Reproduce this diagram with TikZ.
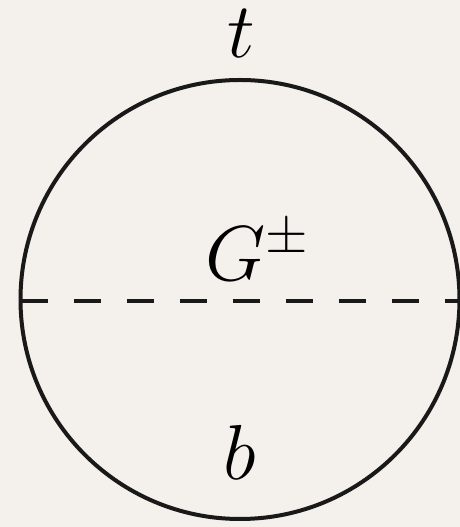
\RequirePackage{fix-cm}
\documentclass[tikz,border=0pt]{standalone}
\definecolor{paper}{HTML}{F4F1EC}
\begin{document}
\begin{tikzpicture}[x=1pt,y=1pt,
  line/.style={line width=4pt, black!90},
  lbl/.style={anchor=base, inner sep=0pt, font=\fontsize{78}{90}\selectfont}]
\fill[paper] (0,0) rectangle (460,527);
\useasboundingbox (0,0) rectangle (460,527);
\begin{scope}
\clip (0,0) rectangle (460,527);
\coordinate (c) at (240,227.5);
\draw[line] (c) circle (219.5);
\coordinate (l) at (20.5,226);
\coordinate (r) at (462,226);
\draw[line, dash pattern=on 27pt off 26pt] (l) -- (r);
\end{scope}
\node[lbl] (t) at (241,469.5) {$t$};
\node[lbl, anchor=base west] (g) at (205,246) {$G^{\pm}$};
\node[lbl] (b) at (240,47) {$b$};
\end{tikzpicture}
\end{document}
